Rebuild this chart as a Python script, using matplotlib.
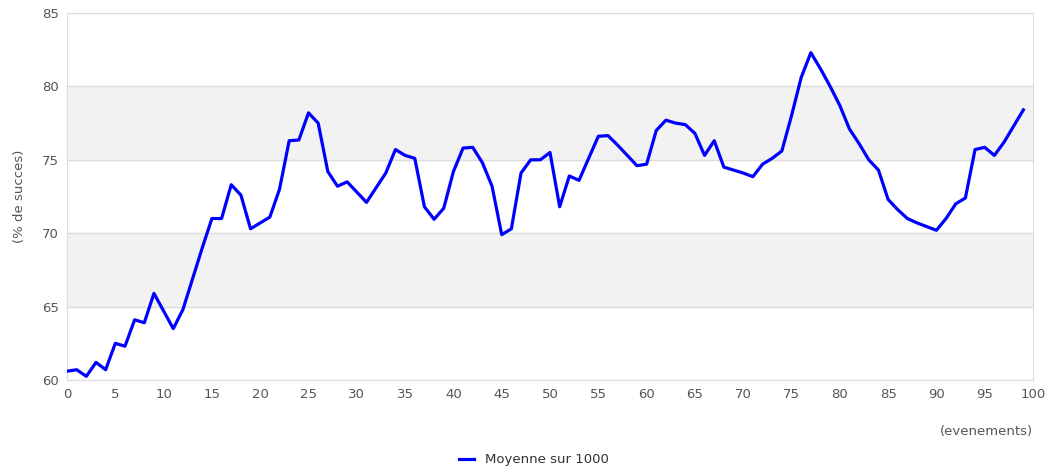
import matplotlib.pyplot as plt
import numpy as np

# moyenne glissante sur 1000 evenements
events = np.arange(100)
success = [60.6, 60.7, 60.25, 61.2, 60.7, 62.5, 62.3, 64.1, 63.9, 65.9,
           64.7, 63.5, 64.8, 66.9, 69.0, 71.0, 71.0, 73.3, 72.6, 70.3,
           70.7, 71.1, 73.0, 76.3, 76.35, 78.2, 77.5, 74.2, 73.2, 73.5,
           72.8, 72.1, 73.1, 74.1, 75.7, 75.3, 75.1, 71.8, 70.95, 71.7,
           74.2, 75.8, 75.85, 74.8, 73.2, 69.9, 70.3, 74.1, 75.0, 75.0,
           75.5, 71.8, 73.9, 73.6, 75.1, 76.6, 76.65, 76.0, 75.3, 74.6,
           74.7, 77.0, 77.7, 77.5, 77.4, 76.8, 75.3, 76.3, 74.5, 74.3,
           74.1, 73.85, 74.7, 75.1, 75.6, 78.0, 80.6, 82.3, 81.2, 80.0,
           78.7, 77.1, 76.1, 75.0, 74.3, 72.3, 71.6, 71.0, 70.7, 70.45,
           70.2, 71.0, 72.0, 72.4, 75.7, 75.85, 75.3, 76.2, 77.3, 78.4]
xticks = list(range(0, 101, 5))
yticks = list(range(60, 86, 5))
bands = [(65, 70), (75, 80)]

fig = plt.figure(figsize=(10.57, 4.70), dpi=100)
ax = fig.add_axes([0.0634, 0.1915, 0.9139, 0.7808])

for lo, hi in bands:
    ax.axhspan(lo, hi, color='#f2f2f2', zorder=0)
for y in yticks:
    ax.axhline(y, color='#dddddd', lw=1, zorder=1)

line, = ax.plot(events, success, color='#0000ff', lw=2.3, zorder=3,
                solid_joinstyle='round', label='Moyenne sur 1000')

ax.set_xlim(0, 100)
ax.set_ylim(60, 85)
ax.set_xticks(xticks)
ax.set_yticks(yticks)
ax.tick_params(length=0, labelsize=9.5, labelcolor='#555555', pad=6)

for s in ['left', 'bottom', 'right']:
    ax.spines[s].set_color('#dddddd')
ax.spines['top'].set_visible(False)

ax.set_ylabel('(% de succes)', fontsize=9.5, color='#555555', labelpad=11)
fig.text(0.977, 0.081, '(evenements)', ha='right', va='center',
         fontsize=9.5, color='#555555')

fig.legend(handles=[line], loc='center', bbox_to_anchor=(0.505, 0.022),
           frameon=False, fontsize=9.5, handlelength=1.2, labelcolor='#333333')

fig.savefig('out.png', dpi=100)
